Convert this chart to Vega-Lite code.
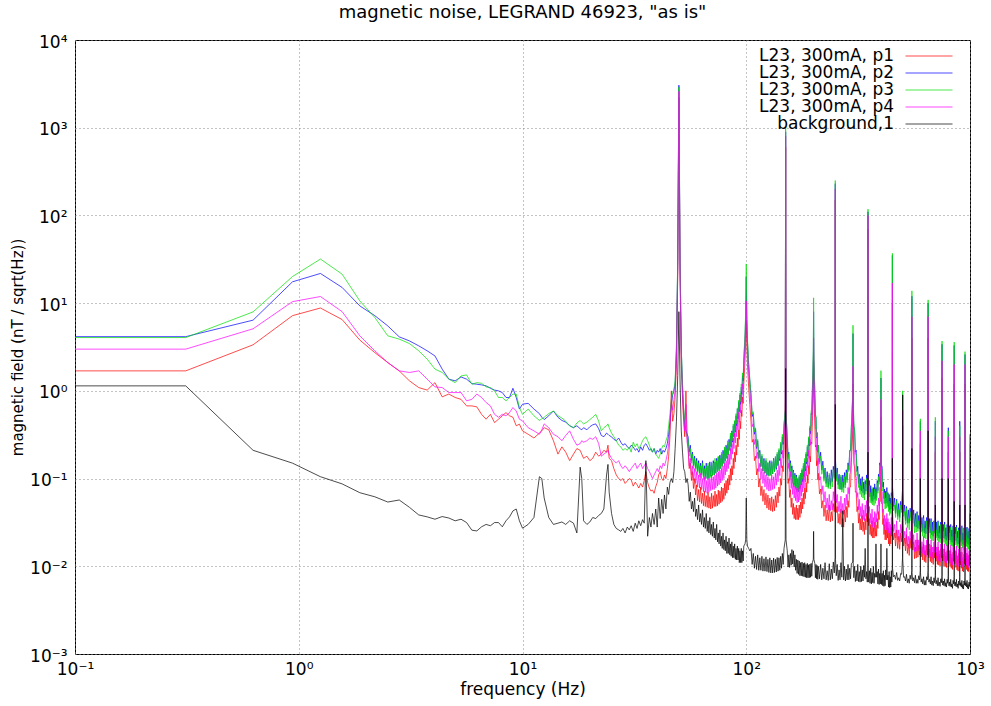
{
"$schema": "https://vega.github.io/schema/vega-lite/v6.json",
"width": 895,
"height": 614,
"autosize": {"type": "none"},
"padding": {"left": 75, "top": 40, "right": 21, "bottom": 52},
"background": "white",
"title": {"text": "magnetic noise, LEGRAND 46923, \"as is\"", "fontSize": 18, "fontWeight": "normal", "font": "DejaVu Sans", "offset": 11, "color": "#000"},
"data": {"values": [
{"f":0.1,"p1":1.69,"p2":4.15,"p3":4.05,"p4":2.99,"bg":1.14},
{"f":0.3125,"p1":1.69,"p2":4.15,"p3":4.05,"p4":2.99,"bg":1.14},
{"f":0.625,"p1":3.35,"p2":6.4,"p3":7.95,"p4":5.1,"bg":0.21},
{"f":0.9375,"p1":7.2,"p2":17.5,"p3":20.1,"p4":10.4,"bg":0.15},
{"f":1.25,"p1":8.8,"p2":21.8,"p3":31.8,"p4":11.9,"bg":0.105},
{"f":1.5625,"p1":6.5,"p2":15.1,"p3":21.4,"p4":8.0,"bg":0.087},
{"f":1.875,"p1":3.79,"p2":9.3,"p3":10.6,"p4":4.24,"bg":0.069},
{"f":2.1875,"p1":2.73,"p2":7.2,"p3":6.85,"p4":2.86,"bg":0.062},
{"f":2.5,"p1":2.1,"p2":5.5,"p3":4.24,"p4":2.1,"bg":0.054},
{"f":2.8125,"p1":1.69,"p2":4.13,"p3":3.89,"p4":1.69,"bg":0.057},
{"f":3.125,"p1":1.3,"p2":3.71,"p3":3.46,"p4":1.62,"bg":0.047},
{"f":3.4375,"p1":1.09,"p2":3.26,"p3":2.86,"p4":1.69,"bg":0.0385},
{"f":3.75,"p1":1.02,"p2":2.86,"p3":2.3,"p4":1.36,"bg":0.0366},
{"f":4.0625,"p1":1.24,"p2":2.5,"p3":1.77,"p4":1.11,"bg":0.0344},
{"f":4.375,"p1":0.854,"p2":1.77,"p3":1.62,"p4":1.09,"bg":0.0369},
{"f":4.6875,"p1":0.92,"p2":1.36,"p3":1.36,"p4":0.956,"bg":0.0355},
{"f":5,"p1":0.84,"p2":1.3,"p3":1.24,"p4":0.956,"bg":0.033},
{"f":5.3125,"p1":0.8,"p2":1.44,"p3":1.48,"p4":0.956,"bg":0.0344},
{"f":5.625,"p1":0.674,"p2":1.36,"p3":1.52,"p4":0.77,"bg":0.0315},
{"f":5.9375,"p1":0.674,"p2":1.21,"p3":1.19,"p4":0.8,"bg":0.0258},
{"f":6.25,"p1":0.657,"p2":1.19,"p3":1.24,"p4":0.92,"bg":0.0253},
{"f":6.5625,"p1":0.54,"p2":1.17,"p3":1.22,"p4":0.84,"bg":0.0282},
{"f":6.875,"p1":0.475,"p2":1.14,"p3":1.11,"p4":0.736,"bg":0.03},
{"f":7.1875,"p1":0.54,"p2":1.07,"p3":1.09,"p4":0.674,"bg":0.029},
{"f":7.5,"p1":0.435,"p2":1.02,"p3":1.0,"p4":0.54,"bg":0.0315},
{"f":7.8125,"p1":0.475,"p2":1.0,"p3":0.84,"p4":0.5,"bg":0.0315},
{"f":8.125,"p1":0.52,"p2":0.956,"p3":0.84,"p4":0.54,"bg":0.0282},
{"f":8.4375,"p1":0.565,"p2":0.84,"p3":0.77,"p4":0.52,"bg":0.033},
{"f":8.75,"p1":0.52,"p2":0.84,"p3":0.84,"p4":0.565,"bg":0.0366},
{"f":9.0625,"p1":0.5,"p2":1.07,"p3":0.92,"p4":0.645,"bg":0.0428},
{"f":9.375,"p1":0.4,"p2":0.84,"p3":0.92,"p4":0.59,"bg":0.045},
{"f":9.6875,"p1":0.417,"p2":0.62,"p3":0.645,"p4":0.475,"bg":0.033},
{"f":10,"p1":0.35,"p2":0.705,"p3":0.54,"p4":0.455,"bg":0.0272},
{"f":10.6,"p1":0.32,"p2":0.72,"p3":0.62,"p4":0.38,"bg":0.030},
{"f":11.25,"p1":0.29,"p2":0.62,"p3":0.52,"p4":0.35,"bg":0.036},
{"f":11.9,"p1":0.33,"p2":0.55,"p3":0.46,"p4":0.32,"bg":0.105},
{"f":12.2,"p1":0.35,"p2":0.50,"p3":0.48,"p4":0.36,"bg":0.10},
{"f":12.5,"p1":0.38,"p2":0.47,"p3":0.50,"p4":0.42,"bg":0.06},
{"f":13.1,"p1":0.36,"p2":0.52,"p3":0.55,"p4":0.38,"bg":0.036},
{"f":13.75,"p1":0.27,"p2":0.59,"p3":0.59,"p4":0.32,"bg":0.030},
{"f":14.4,"p1":0.19,"p2":0.50,"p3":0.52,"p4":0.30,"bg":0.031},
{"f":15,"p1":0.23,"p2":0.46,"p3":0.49,"p4":0.27,"bg":0.032},
{"f":15.6,"p1":0.20,"p2":0.44,"p3":0.45,"p4":0.31,"bg":0.030},
{"f":16.25,"p1":0.16,"p2":0.40,"p3":0.40,"p4":0.35,"bg":0.033},
{"f":16.9,"p1":0.19,"p2":0.38,"p3":0.38,"p4":0.28,"bg":0.031},
{"f":17.5,"p1":0.22,"p2":0.40,"p3":0.43,"p4":0.24,"bg":0.024},
{"f":18.1,"p1":0.21,"p2":0.37,"p3":0.46,"p4":0.25,"bg":0.135},
{"f":18.4,"p1":0.19,"p2":0.36,"p3":0.44,"p4":0.27,"bg":0.10},
{"f":18.75,"p1":0.17,"p2":0.38,"p3":0.42,"p4":0.26,"bg":0.033},
{"f":19.4,"p1":0.18,"p2":0.36,"p3":0.44,"p4":0.27,"bg":0.030},
{"f":20,"p1":0.16,"p2":0.39,"p3":0.47,"p4":0.29,"bg":0.032},
{"f":20.6,"p1":0.17,"p2":0.41,"p3":0.50,"p4":0.28,"bg":0.036},
{"f":21.25,"p1":0.20,"p2":0.42,"p3":0.54,"p4":0.30,"bg":0.035},
{"f":21.9,"p1":0.18,"p2":0.37,"p3":0.45,"p4":0.25,"bg":0.038},
{"f":22.5,"p1":0.19,"p2":0.31,"p3":0.35,"p4":0.18,"bg":0.040},
{"f":23.1,"p1":0.21,"p2":0.30,"p3":0.38,"p4":0.19,"bg":0.045},
{"f":23.75,"p1":0.20,"p2":0.33,"p3":0.40,"p4":0.20,"bg":0.11},
{"f":24.1,"p1":0.24,"p2":0.32,"p3":0.42,"p4":0.21,"bg":0.145},
{"f":24.4,"p1":0.17,"p2":0.31,"p3":0.38,"p4":0.19,"bg":0.07},
{"f":25,"p1":0.16,"p2":0.30,"p3":0.33,"p4":0.17,"bg":0.040},
{"f":25.6,"p1":0.13,"p2":0.28,"p3":0.30,"p4":0.16,"bg":0.030},
{"f":26.25,"p1":0.11,"p2":0.27,"p3":0.27,"p4":0.15,"bg":0.027},
{"f":26.9,"p1":0.10,"p2":0.29,"p3":0.24,"p4":0.16,"bg":0.026},
{"f":27.5,"p1":0.095,"p2":0.26,"p3":0.23,"p4":0.14,"bg":0.025},
{"f":28.1,"p1":0.10,"p2":0.24,"p3":0.21,"p4":0.13,"bg":0.027},
{"f":28.75,"p1":0.088,"p2":0.25,"p3":0.22,"p4":0.14,"bg":0.024},
{"f":29.4,"p1":0.094,"p2":0.23,"p3":0.21,"p4":0.13,"bg":0.028},
{"f":30,"p1":0.10,"p2":0.22,"p3":0.23,"p4":0.12,"bg":0.026},
{"f":30.6,"p1":0.097,"p2":0.24,"p3":0.20,"p4":0.13,"bg":0.029},
{"f":31.25,"p1":0.082,"p2":0.23,"p3":0.26,"p4":0.14,"bg":0.025},
{"f":31.9,"p1":0.091,"p2":0.21,"p3":0.23,"p4":0.15,"bg":0.031},
{"f":32.5,"p1":0.085,"p2":0.22,"p3":0.25,"p4":0.13,"bg":0.027},
{"f":33.1,"p1":0.078,"p2":0.20,"p3":0.22,"p4":0.14,"bg":0.033},
{"f":33.75,"p1":0.088,"p2":0.23,"p3":0.24,"p4":0.15,"bg":0.029},
{"f":34.4,"p1":0.080,"p2":0.21,"p3":0.27,"p4":0.13,"bg":0.034},
{"f":35,"p1":0.095,"p2":0.24,"p3":0.29,"p4":0.14,"bg":0.031},
{"f":35.6,"p1":0.12,"p2":0.25,"p3":0.30,"p4":0.15,"bg":0.16},
{"f":36.25,"p1":0.090,"p2":0.23,"p3":0.27,"p4":0.13,"bg":0.022},
{"f":36.9,"p1":0.078,"p2":0.21,"p3":0.24,"p4":0.12,"bg":0.036},
{"f":37.5,"p1":0.072,"p2":0.22,"p3":0.21,"p4":0.11,"bg":0.028},
{"f":38.1,"p1":0.074,"p2":0.20,"p3":0.20,"p4":0.10,"bg":0.040},
{"f":38.75,"p1":0.068,"p2":0.22,"p3":0.22,"p4":0.11,"bg":0.030},
{"f":39.4,"p1":0.081,"p2":0.19,"p3":0.19,"p4":0.12,"bg":0.045},
{"f":40,"p1":0.090,"p2":0.21,"p3":0.18,"p4":0.13,"bg":0.028},
{"f":40.6,"p1":0.11,"p2":0.20,"p3":0.17,"p4":0.12,"bg":0.060},
{"f":41.25,"p1":0.12,"p2":0.22,"p3":0.19,"p4":0.14,"bg":0.035},
{"f":41.9,"p1":0.10,"p2":0.19,"p3":0.22,"p4":0.13,"bg":0.058},
{"f":42.5,"p1":0.095,"p2":0.21,"p3":0.24,"p4":0.15,"bg":0.040},
{"f":43.1,"p1":0.11,"p2":0.20,"p3":0.23,"p4":0.14,"bg":0.065},
{"f":43.75,"p1":0.10,"p2":0.22,"p3":0.27,"p4":0.16,"bg":0.045},
{"f":44.4,"p1":0.13,"p2":0.25,"p3":0.30,"p4":0.19,"bg":0.08},
{"f":45,"p1":0.18,"p2":0.32,"p3":0.40,"p4":0.25,"bg":0.066},
{"f":45.6,"p1":0.30,"p2":0.45,"p3":0.55,"p4":0.38,"bg":0.09},
{"f":46.25,"p1":1.0,"p2":0.70,"p3":0.80,"p4":0.75,"bg":0.10},
{"f":46.9,"p1":0.45,"p2":0.90,"p3":0.95,"p4":0.60,"bg":0.09},
{"f":47.5,"p1":0.55,"p2":1.0,"p3":1.05,"p4":0.80,"bg":0.12},
{"f":48.1,"p1":0.85,"p2":1.2,"p3":1.3,"p4":1.0,"bg":0.22},
{"f":48.75,"p1":2.0,"p2":3.0,"p3":3.2,"p4":2.5,"bg":0.45},
{"f":49.4,"p1":20,"p2":30,"p3":32,"p4":25,"bg":1.5},
{"f":50,"p1":2200,"p2":3050,"p3":2900,"p4":2600,"bg":8.0},
{"f":50.6,"p1":20,"p2":30,"p3":32,"p4":25,"bg":1.3},
{"f":51.25,"p1":2.0,"p2":3.0,"p3":3.0,"p4":2.4,"bg":0.35},
{"f":51.9,"p1":0.80,"p2":1.1,"p3":1.2,"p4":0.95,"bg":0.20},
{"f":52.5,"p1":0.45,"p2":0.60,"p3":0.65,"p4":0.50,"bg":0.13},
{"f":53.1,"p1":0.30,"p2":0.42,"p3":0.45,"p4":0.35,"bg":0.12},
{"f":53.75,"p1":1.0,"p2":0.35,"p3":0.33,"p4":0.70,"bg":0.09},
{"f":54.4,"p1":0.30,"p2":0.32,"p3":0.30,"p4":0.26,"bg":0.10},
{"f":55,"p1":0.22,"p2":0.30,"p3":0.28,"p4":0.22,"bg":0.085},
{"f":56.25,"p1":0.15,"p2":0.24,"p3":0.22,"p4":0.17,"bg":0.07},
{"f":57.5,"p1":0.12,"p2":0.20,"p3":0.19,"p4":0.14,"bg":0.055},
{"f":58.75,"p1":0.10,"p2":0.18,"p3":0.17,"p4":0.13,"bg":0.060},
{"f":60,"p1":0.085,"p2":0.17,"p3":0.16,"p4":0.12,"bg":0.045},
{"f":61.25,"p1":0.075,"p2":0.16,"p3":0.15,"p4":0.11,"bg":0.050},
{"f":62.5,"p1":0.080,"p2":0.15,"p3":0.14,"p4":0.115,"bg":0.040},
{"f":63.75,"p1":0.068,"p2":0.16,"p3":0.15,"p4":0.10,"bg":0.044},
{"f":65,"p1":0.072,"p2":0.14,"p3":0.13,"p4":0.105,"bg":0.036},
{"f":66.25,"p1":0.064,"p2":0.15,"p3":0.14,"p4":0.095,"bg":0.040},
{"f":67.5,"p1":0.070,"p2":0.14,"p3":0.15,"p4":0.10,"bg":0.033},
{"f":68.75,"p1":0.062,"p2":0.155,"p3":0.14,"p4":0.10,"bg":0.036},
{"f":70,"p1":0.068,"p2":0.15,"p3":0.155,"p4":0.11,"bg":0.030},
{"f":71.25,"p1":0.064,"p2":0.16,"p3":0.15,"p4":0.105,"bg":0.032},
{"f":72.5,"p1":0.072,"p2":0.155,"p3":0.17,"p4":0.11,"bg":0.027},
{"f":73.75,"p1":0.066,"p2":0.17,"p3":0.16,"p4":0.115,"bg":0.030},
{"f":75,"p1":0.074,"p2":0.175,"p3":0.18,"p4":0.12,"bg":0.024},
{"f":76.25,"p1":0.072,"p2":0.185,"p3":0.17,"p4":0.125,"bg":0.026},
{"f":77.5,"p1":0.080,"p2":0.19,"p3":0.20,"p4":0.13,"bg":0.022},
{"f":78.75,"p1":0.078,"p2":0.21,"p3":0.19,"p4":0.14,"bg":0.024},
{"f":80,"p1":0.088,"p2":0.22,"p3":0.23,"p4":0.15,"bg":0.020},
{"f":81.25,"p1":0.095,"p2":0.24,"p3":0.22,"p4":0.16,"bg":0.022},
{"f":82.5,"p1":0.10,"p2":0.25,"p3":0.27,"p4":0.18,"bg":0.019},
{"f":83.75,"p1":0.11,"p2":0.28,"p3":0.26,"p4":0.19,"bg":0.021},
{"f":85,"p1":0.13,"p2":0.31,"p3":0.33,"p4":0.22,"bg":0.018},
{"f":86.25,"p1":0.14,"p2":0.35,"p3":0.34,"p4":0.25,"bg":0.019},
{"f":87.5,"p1":0.17,"p2":0.40,"p3":0.42,"p4":0.29,"bg":0.017},
{"f":88.75,"p1":0.20,"p2":0.45,"p3":0.46,"p4":0.33,"bg":0.018},
{"f":90,"p1":0.24,"p2":0.52,"p3":0.55,"p4":0.40,"bg":0.016},
{"f":91.25,"p1":0.29,"p2":0.62,"p3":0.64,"p4":0.47,"bg":0.017},
{"f":92.5,"p1":0.36,"p2":0.75,"p3":0.78,"p4":0.57,"bg":0.016},
{"f":93.75,"p1":0.45,"p2":0.90,"p3":0.95,"p4":0.70,"bg":0.015},
{"f":95,"p1":0.60,"p2":1.1,"p3":1.2,"p4":0.9,"bg":0.016},
{"f":96.25,"p1":0.85,"p2":1.5,"p3":1.6,"p4":1.2,"bg":0.015},
{"f":97.5,"p1":1.2,"p2":2.2,"p3":2.4,"p4":1.8,"bg":0.017},
{"f":98.75,"p1":2.2,"p2":4.0,"p3":4.5,"p4":3.2,"bg":0.018},
{"f":99.4,"p1":3.5,"p2":7,"p3":8,"p4":5.5,"bg":0.02},
{"f":100,"p1":6.3,"p2":20,"p3":28,"p4":10.6,"bg":0.06},
{"f":100.6,"p1":3.3,"p2":6.5,"p3":7.5,"p4":5.0,"bg":0.02},
{"f":101.25,"p1":2.0,"p2":3.6,"p3":4.0,"p4":2.9,"bg":0.017},
{"f":102.5,"p1":1.1,"p2":2.0,"p3":2.1,"p4":1.6,"bg":0.016},
{"f":103.75,"p1":0.7,"p2":1.3,"p3":1.35,"p4":1.0,"bg":0.015},
{"f":105,"p1":0.45,"p2":0.9,"p3":0.95,"p4":0.7,"bg":0.016},
{"f":107.5,"p1":0.28,"p2":0.55,"p3":0.58,"p4":0.42,"bg":0.014},
{"f":110,"p1":0.18,"p2":0.37,"p3":0.38,"p4":0.28,"bg":0.013},
{"f":112.5,"p1":0.13,"p2":0.27,"p3":0.28,"p4":0.20,"bg":0.0135},
{"f":115,"p1":0.10,"p2":0.21,"p3":0.20,"p4":0.15,"bg":0.0125},
{"f":117.5,"p1":0.082,"p2":0.18,"p3":0.19,"p4":0.13,"bg":0.013},
{"f":120,"p1":0.075,"p2":0.17,"p3":0.16,"p4":0.12,"bg":0.0122},
{"f":122.5,"p1":0.068,"p2":0.16,"p3":0.17,"p4":0.11,"bg":0.0128},
{"f":125,"p1":0.065,"p2":0.15,"p3":0.155,"p4":0.105,"bg":0.012},
{"f":127.5,"p1":0.060,"p2":0.16,"p3":0.15,"p4":0.10,"bg":0.0125},
{"f":130,"p1":0.062,"p2":0.155,"p3":0.16,"p4":0.11,"bg":0.0118},
{"f":132.5,"p1":0.058,"p2":0.17,"p3":0.165,"p4":0.105,"bg":0.0124},
{"f":135,"p1":0.064,"p2":0.175,"p3":0.18,"p4":0.115,"bg":0.012},
{"f":137.5,"p1":0.070,"p2":0.19,"p3":0.20,"p4":0.125,"bg":0.0126},
{"f":140,"p1":0.080,"p2":0.21,"p3":0.22,"p4":0.14,"bg":0.0125},
{"f":142.5,"p1":0.10,"p2":0.25,"p3":0.26,"p4":0.17,"bg":0.013},
{"f":145,"p1":0.14,"p2":0.30,"p3":0.32,"p4":0.21,"bg":0.014},
{"f":147.5,"p1":0.20,"p2":0.40,"p3":0.42,"p4":0.28,"bg":0.016},
{"f":149.4,"p1":0.8,"p2":0.60,"p3":0.62,"p4":0.45,"bg":0.02},
{"f":150,"p1":600,"p2":900,"p3":1000,"p4":800,"bg":1.8},
{"f":150.6,"p1":0.32,"p2":0.55,"p3":0.58,"p4":0.42,"bg":0.02},
{"f":152.5,"p1":0.15,"p2":0.30,"p3":0.28,"p4":0.22,"bg":0.015},
{"f":155,"p1":0.10,"p2":0.20,"p3":0.19,"p4":0.15,"bg":0.0135},
{"f":157.5,"p1":0.075,"p2":0.16,"p3":0.15,"p4":0.12,"bg":0.014},
{"f":160,"p1":0.060,"p2":0.14,"p3":0.13,"p4":0.10,"bg":0.0155},
{"f":162.5,"p1":0.052,"p2":0.125,"p3":0.12,"p4":0.09,"bg":0.015},
{"f":165,"p1":0.047,"p2":0.115,"p3":0.11,"p4":0.082,"bg":0.0135},
{"f":167.5,"p1":0.050,"p2":0.11,"p3":0.105,"p4":0.078,"bg":0.012},
{"f":170,"p1":0.046,"p2":0.10,"p3":0.10,"p4":0.075,"bg":0.0118},
{"f":172.5,"p1":0.050,"p2":0.105,"p3":0.11,"p4":0.08,"bg":0.0115},
{"f":175,"p1":0.054,"p2":0.115,"p3":0.115,"p4":0.085,"bg":0.011},
{"f":177.5,"p1":0.060,"p2":0.125,"p3":0.13,"p4":0.095,"bg":0.0112},
{"f":180,"p1":0.068,"p2":0.14,"p3":0.15,"p4":0.105,"bg":0.0108},
{"f":182.5,"p1":0.078,"p2":0.16,"p3":0.17,"p4":0.12,"bg":0.011},
{"f":185,"p1":0.09,"p2":0.19,"p3":0.20,"p4":0.14,"bg":0.0105},
{"f":187.5,"p1":0.11,"p2":0.23,"p3":0.24,"p4":0.17,"bg":0.0108},
{"f":190,"p1":0.14,"p2":0.29,"p3":0.30,"p4":0.21,"bg":0.0104},
{"f":192.5,"p1":0.18,"p2":0.38,"p3":0.40,"p4":0.28,"bg":0.0106},
{"f":195,"p1":0.26,"p2":0.55,"p3":0.60,"p4":0.40,"bg":0.0108},
{"f":197.5,"p1":0.45,"p2":1.0,"p3":1.1,"p4":0.75,"bg":0.011},
{"f":199.4,"p1":0.9,"p2":2.5,"p3":3.0,"p4":1.6,"bg":0.012},
{"f":200,"p1":2.2,"p2":8,"p3":11.5,"p4":4.0,"bg":0.025},
{"f":200.6,"p1":0.85,"p2":2.3,"p3":2.8,"p4":1.5,"bg":0.012},
{"f":202.5,"p1":0.42,"p2":0.95,"p3":1.0,"p4":0.70,"bg":0.0108},
{"f":205,"p1":0.24,"p2":0.50,"p3":0.52,"p4":0.36,"bg":0.0105},
{"f":207.5,"p1":0.16,"p2":0.33,"p3":0.34,"p4":0.24,"bg":0.0102},
{"f":210,"p1":0.115,"p2":0.24,"p3":0.24,"p4":0.17,"bg":0.010},
{"f":215,"p1":0.076,"p2":0.20,"p3":0.18,"p4":0.105,"bg":0.0105},
{"f":220,"p1":0.056,"p2":0.158,"p3":0.141,"p4":0.083,"bg":0.0095},
{"f":225,"p1":0.050,"p2":0.132,"p3":0.126,"p4":0.071,"bg":0.011},
{"f":230,"p1":0.044,"p2":0.12,"p3":0.105,"p4":0.060,"bg":0.0089},
{"f":235,"p1":0.050,"p2":0.11,"p3":0.115,"p4":0.066,"bg":0.0107},
{"f":240,"p1":0.042,"p2":0.126,"p3":0.102,"p4":0.056,"bg":0.0093},
{"f":245,"p1":0.052,"p2":0.138,"p3":0.126,"p4":0.071,"bg":0.0112},
{"f":249.4,"p1":0.071,"p2":0.166,"p3":0.158,"p4":0.089,"bg":0.0126},
{"f":250,"p1":150,"p2":230,"p3":250,"p4":200,"bg":0.7},
{"f":250.6,"p1":0.068,"p2":0.16,"p3":0.15,"p4":0.085,"bg":0.012},
{"f":255,"p1":0.048,"p2":0.132,"p3":0.117,"p4":0.066,"bg":0.0105},
{"f":260,"p1":0.040,"p2":0.112,"p3":0.10,"p4":0.055,"bg":0.0091},
{"f":265,"p1":0.045,"p2":0.105,"p3":0.11,"p4":0.063,"bg":0.011},
{"f":270,"p1":0.035,"p2":0.11,"p3":0.091,"p4":0.052,"bg":0.043},
{"f":275,"p1":0.044,"p2":0.117,"p3":0.105,"p4":0.06,"bg":0.010},
{"f":280,"p1":0.048,"p2":0.126,"p3":0.117,"p4":0.066,"bg":0.0093},
{"f":285,"p1":0.056,"p2":0.151,"p3":0.141,"p4":0.079,"bg":0.0105},
{"f":290,"p1":0.079,"p2":0.21,"p3":0.20,"p4":0.112,"bg":0.0095},
{"f":295,"p1":0.151,"p2":0.38,"p3":0.40,"p4":0.224,"bg":0.0107},
{"f":299.4,"p1":0.355,"p2":0.89,"p3":1.0,"p4":0.50,"bg":0.0112},
{"f":300,"p1":1.2,"p2":4.5,"p3":5.6,"p4":1.9,"bg":0.031},
{"f":300.6,"p1":0.32,"p2":0.8,"p3":0.9,"p4":0.45,"bg":0.011},
{"f":305,"p1":0.132,"p2":0.355,"p3":0.355,"p4":0.20,"bg":0.010},
{"f":310,"p1":0.071,"p2":0.21,"p3":0.19,"p4":0.105,"bg":0.0089},
{"f":315,"p1":0.048,"p2":0.138,"p3":0.12,"p4":0.069,"bg":0.0105},
{"f":320,"p1":0.040,"p2":0.112,"p3":0.105,"p4":0.058,"bg":0.0087},
{"f":325,"p1":0.035,"p2":0.10,"p3":0.083,"p4":0.048,"bg":0.010},
{"f":330,"p1":0.038,"p2":0.105,"p3":0.095,"p4":0.052,"bg":0.0091},
{"f":335,"p1":0.032,"p2":0.091,"p3":0.076,"p4":0.044,"bg":0.0102},
{"f":340,"p1":0.035,"p2":0.095,"p3":0.087,"p4":0.050,"bg":0.016},
{"f":345,"p1":0.040,"p2":0.11,"p3":0.10,"p4":0.056,"bg":0.0087},
{"f":349.4,"p1":0.05,"p2":0.132,"p3":0.126,"p4":0.071,"bg":0.010},
{"f":350,"p1":70,"p2":110,"p3":118,"p4":100,"bg":0.2},
{"f":350.6,"p1":0.048,"p2":0.125,"p3":0.12,"p4":0.068,"bg":0.0098},
{"f":355,"p1":0.035,"p2":0.095,"p3":0.083,"p4":0.048,"bg":0.0089},
{"f":360,"p1":0.030,"p2":0.083,"p3":0.069,"p4":0.040,"bg":0.0095},
{"f":365,"p1":0.033,"p2":0.076,"p3":0.079,"p4":0.045,"bg":0.0085},
{"f":370,"p1":0.0275,"p2":0.079,"p3":0.063,"p4":0.036,"bg":0.010},
{"f":375,"p1":0.032,"p2":0.087,"p3":0.076,"p4":0.042,"bg":0.0083},
{"f":380,"p1":0.0295,"p2":0.079,"p3":0.071,"p4":0.040,"bg":0.018},
{"f":385,"p1":0.035,"p2":0.095,"p3":0.089,"p4":0.050,"bg":0.0087},
{"f":390,"p1":0.042,"p2":0.112,"p3":0.105,"p4":0.060,"bg":0.0093},
{"f":395,"p1":0.056,"p2":0.151,"p3":0.141,"p4":0.079,"bg":0.0083},
{"f":399.4,"p1":0.10,"p2":0.26,"p3":0.25,"p4":0.141,"bg":0.010},
{"f":400,"p1":0.5,"p2":1.4,"p3":1.7,"p4":0.8,"bg":0.018},
{"f":400.6,"p1":0.095,"p2":0.25,"p3":0.24,"p4":0.135,"bg":0.0095},
{"f":405,"p1":0.052,"p2":0.138,"p3":0.126,"p4":0.071,"bg":0.0083},
{"f":410,"p1":0.035,"p2":0.091,"p3":0.079,"p4":0.045,"bg":0.0089},
{"f":415,"p1":0.030,"p2":0.076,"p3":0.069,"p4":0.038,"bg":0.0079},
{"f":420,"p1":0.026,"p2":0.072,"p3":0.06,"p4":0.035,"bg":0.0091},
{"f":425,"p1":0.032,"p2":0.079,"p3":0.071,"p4":0.040,"bg":0.016},
{"f":430,"p1":0.0275,"p2":0.069,"p3":0.066,"p4":0.035,"bg":0.0079},
{"f":435,"p1":0.024,"p2":0.066,"p3":0.055,"p4":0.032,"bg":0.0087},
{"f":440,"p1":0.025,"p2":0.060,"p3":0.052,"p4":0.030,"bg":0.0076},
{"f":445,"p1":0.028,"p2":0.069,"p3":0.063,"p4":0.036,"bg":0.0089},
{"f":449.4,"p1":0.035,"p2":0.083,"p3":0.079,"p4":0.045,"bg":0.01},
{"f":450,"p1":10,"p2":35,"p3":37,"p4":17,"bg":0.17},
{"f":450.6,"p1":0.034,"p2":0.08,"p3":0.076,"p4":0.043,"bg":0.0095},
{"f":460,"p1":0.024,"p2":0.060,"p3":0.050,"p4":0.030,"bg":0.0079},
{"f":470,"p1":0.026,"p2":0.058,"p3":0.056,"p4":0.033,"bg":0.0085},
{"f":480,"p1":0.022,"p2":0.052,"p3":0.044,"p4":0.026,"bg":0.0074},
{"f":490,"p1":0.024,"p2":0.055,"p3":0.050,"p4":0.030,"bg":0.0083},
{"f":499.4,"p1":0.032,"p2":0.076,"p3":0.071,"p4":0.040,"bg":0.0126},
{"f":500,"p1":0.4,"p2":0.9,"p3":1.0,"p4":0.6,"bg":0.9},
{"f":500.6,"p1":0.030,"p2":0.072,"p3":0.068,"p4":0.038,"bg":0.012},
{"f":510,"p1":0.021,"p2":0.050,"p3":0.042,"p4":0.025,"bg":0.0076},
{"f":520,"p1":0.023,"p2":0.048,"p3":0.046,"p4":0.0275,"bg":0.0081},
{"f":530,"p1":0.018,"p2":0.044,"p3":0.035,"p4":0.022,"bg":0.0072},
{"f":540,"p1":0.021,"p2":0.046,"p3":0.042,"p4":0.025,"bg":0.0079},
{"f":549.4,"p1":0.0275,"p2":0.060,"p3":0.056,"p4":0.033,"bg":0.0089},
{"f":550,"p1":4,"p2":12,"p3":13.8,"p4":7,"bg":0.22},
{"f":550.6,"p1":0.026,"p2":0.057,"p3":0.053,"p4":0.031,"bg":0.0085},
{"f":560,"p1":0.019,"p2":0.044,"p3":0.038,"p4":0.023,"bg":0.0074},
{"f":570,"p1":0.0166,"p2":0.040,"p3":0.032,"p4":0.020,"bg":0.0079},
{"f":580,"p1":0.020,"p2":0.042,"p3":0.040,"p4":0.024,"bg":0.0071},
{"f":590,"p1":0.0174,"p2":0.038,"p3":0.033,"p4":0.020,"bg":0.0078},
{"f":599.4,"p1":0.022,"p2":0.048,"p3":0.045,"p4":0.026,"bg":0.0089},
{"f":600,"p1":0.25,"p2":0.45,"p3":0.48,"p4":0.35,"bg":0.1},
{"f":600.6,"p1":0.021,"p2":0.045,"p3":0.042,"p4":0.025,"bg":0.0085},
{"f":610,"p1":0.0166,"p2":0.036,"p3":0.030,"p4":0.019,"bg":0.0072},
{"f":620,"p1":0.018,"p2":0.038,"p3":0.035,"p4":0.022,"bg":0.0076},
{"f":630,"p1":0.0151,"p2":0.033,"p3":0.0275,"p4":0.0174,"bg":0.0069},
{"f":640,"p1":0.0174,"p2":0.036,"p3":0.033,"p4":0.020,"bg":0.0076},
{"f":649.4,"p1":0.022,"p2":0.048,"p3":0.045,"p4":0.026,"bg":0.0089},
{"f":650,"p1":4,"p2":10,"p3":10.9,"p4":7,"bg":0.35},
{"f":650.6,"p1":0.021,"p2":0.045,"p3":0.042,"p4":0.025,"bg":0.0085},
{"f":660,"p1":0.0158,"p2":0.035,"p3":0.028,"p4":0.018,"bg":0.0071},
{"f":670,"p1":0.0174,"p2":0.035,"p3":0.033,"p4":0.020,"bg":0.0076},
{"f":680,"p1":0.0145,"p2":0.032,"p3":0.025,"p4":0.0166,"bg":0.0068},
{"f":690,"p1":0.0166,"p2":0.033,"p3":0.032,"p4":0.019,"bg":0.0074},
{"f":699.4,"p1":0.020,"p2":0.040,"p3":0.038,"p4":0.023,"bg":0.0079},
{"f":700,"p1":0.2,"p2":0.45,"p3":0.5,"p4":0.3,"bg":0.05},
{"f":700.6,"p1":0.019,"p2":0.038,"p3":0.036,"p4":0.022,"bg":0.0078},
{"f":710,"p1":0.0145,"p2":0.032,"p3":0.026,"p4":0.0166,"bg":0.0069},
{"f":720,"p1":0.0166,"p2":0.033,"p3":0.032,"p4":0.019,"bg":0.0074},
{"f":730,"p1":0.0138,"p2":0.029,"p3":0.024,"p4":0.0151,"bg":0.0066},
{"f":740,"p1":0.0158,"p2":0.032,"p3":0.030,"p4":0.018,"bg":0.0072},
{"f":749.4,"p1":0.021,"p2":0.042,"p3":0.040,"p4":0.024,"bg":0.0079},
{"f":750,"p1":1.4,"p2":3.4,"p3":3.7,"p4":2.2,"bg":0.1},
{"f":750.6,"p1":0.020,"p2":0.040,"p3":0.038,"p4":0.023,"bg":0.0076},
{"f":760,"p1":0.0138,"p2":0.030,"p3":0.025,"p4":0.0158,"bg":0.0068},
{"f":770,"p1":0.0158,"p2":0.032,"p3":0.030,"p4":0.018,"bg":0.0072},
{"f":780,"p1":0.0132,"p2":0.0275,"p3":0.022,"p4":0.0145,"bg":0.0065},
{"f":790,"p1":0.0151,"p2":0.030,"p3":0.028,"p4":0.0174,"bg":0.0071},
{"f":799.4,"p1":0.019,"p2":0.038,"p3":0.035,"p4":0.022,"bg":0.0079},
{"f":800,"p1":0.2,"p2":0.38,"p3":0.35,"p4":0.3,"bg":0.1},
{"f":800.6,"p1":0.018,"p2":0.036,"p3":0.034,"p4":0.021,"bg":0.0076},
{"f":810,"p1":0.0138,"p2":0.029,"p3":0.024,"p4":0.0151,"bg":0.0066},
{"f":820,"p1":0.0151,"p2":0.030,"p3":0.028,"p4":0.0174,"bg":0.0071},
{"f":830,"p1":0.0126,"p2":0.026,"p3":0.0219,"p4":0.0138,"bg":0.0063},
{"f":840,"p1":0.0145,"p2":0.029,"p3":0.0275,"p4":0.0166,"bg":0.0069},
{"f":849.4,"p1":0.019,"p2":0.038,"p3":0.035,"p4":0.022,"bg":0.0076},
{"f":850,"p1":1.2,"p2":3.3,"p3":3.6,"p4":2.0,"bg":0.055},
{"f":850.6,"p1":0.018,"p2":0.036,"p3":0.034,"p4":0.021,"bg":0.0074},
{"f":860,"p1":0.0135,"p2":0.028,"p3":0.0234,"p4":0.0151,"bg":0.0066},
{"f":870,"p1":0.0148,"p2":0.0295,"p3":0.028,"p4":0.017,"bg":0.0071},
{"f":880,"p1":0.012,"p2":0.025,"p3":0.0209,"p4":0.0132,"bg":0.0063},
{"f":890,"p1":0.0141,"p2":0.0275,"p3":0.026,"p4":0.0158,"bg":0.0068},
{"f":899.4,"p1":0.0178,"p2":0.035,"p3":0.033,"p4":0.020,"bg":0.0076},
{"f":900,"p1":0.2,"p2":0.45,"p3":0.4,"p4":0.3,"bg":0.05},
{"f":900.6,"p1":0.017,"p2":0.034,"p3":0.032,"p4":0.019,"bg":0.0074},
{"f":910,"p1":0.0132,"p2":0.0275,"p3":0.0229,"p4":0.0145,"bg":0.0065},
{"f":920,"p1":0.0145,"p2":0.029,"p3":0.0275,"p4":0.0166,"bg":0.0069},
{"f":930,"p1":0.0115,"p2":0.024,"p3":0.020,"p4":0.0126,"bg":0.0062},
{"f":940,"p1":0.0138,"p2":0.0275,"p3":0.026,"p4":0.0158,"bg":0.0068},
{"f":949.4,"p1":0.0178,"p2":0.035,"p3":0.033,"p4":0.020,"bg":0.0076},
{"f":950,"p1":1.2,"p2":2.6,"p3":2.8,"p4":2.0,"bg":0.05},
{"f":950.6,"p1":0.017,"p2":0.034,"p3":0.032,"p4":0.019,"bg":0.0074},
{"f":960,"p1":0.0129,"p2":0.027,"p3":0.0224,"p4":0.0141,"bg":0.0065},
{"f":970,"p1":0.0141,"p2":0.028,"p3":0.027,"p4":0.0162,"bg":0.0069},
{"f":980,"p1":0.012,"p2":0.025,"p3":0.0209,"p4":0.0132,"bg":0.0062},
{"f":990,"p1":0.0135,"p2":0.027,"p3":0.025,"p4":0.0151,"bg":0.0066},
{"f":999.4,"p1":0.0166,"p2":0.034,"p3":0.032,"p4":0.019,"bg":0.0072},
{"f":1000,"p1":0.15,"p2":0.32,"p3":0.3,"p4":0.25,"bg":0.04},
{"f":55.6,"p1":0.13,"p2":0.20,"p3":0.18,"p4":0.14,"bg":0.055},
{"f":56.9,"p1":0.095,"p2":0.16,"p3":0.15,"p4":0.11,"bg":0.045},
{"f":58.1,"p1":0.077,"p2":0.14,"p3":0.13,"p4":0.095,"bg":0.042},
{"f":59.4,"p1":0.065,"p2":0.13,"p3":0.12,"p4":0.088,"bg":0.037},
{"f":60.6,"p1":0.056,"p2":0.12,"p3":0.11,"p4":0.08,"bg":0.034},
{"f":61.9,"p1":0.054,"p2":0.115,"p3":0.105,"p4":0.078,"bg":0.032},
{"f":63.1,"p1":0.052,"p2":0.11,"p3":0.10,"p4":0.075,"bg":0.03},
{"f":64.4,"p1":0.049,"p2":0.105,"p3":0.098,"p4":0.071,"bg":0.028},
{"f":65.6,"p1":0.048,"p2":0.10,"p3":0.095,"p4":0.07,"bg":0.027},
{"f":66.9,"p1":0.047,"p2":0.10,"p3":0.10,"p4":0.068,"bg":0.025},
{"f":68.1,"p1":0.046,"p2":0.10,"p3":0.10,"p4":0.07,"bg":0.024},
{"f":69.4,"p1":0.045,"p2":0.107,"p3":0.103,"p4":0.073,"bg":0.023},
{"f":70.6,"p1":0.046,"p2":0.11,"p3":0.107,"p4":0.075,"bg":0.022},
{"f":71.9,"p1":0.048,"p2":0.11,"p3":0.11,"p4":0.075,"bg":0.021},
{"f":73.1,"p1":0.048,"p2":0.115,"p3":0.115,"p4":0.078,"bg":0.02},
{"f":74.4,"p1":0.049,"p2":0.12,"p3":0.12,"p4":0.082,"bg":0.019},
{"f":75.6,"p1":0.051,"p2":0.126,"p3":0.122,"p4":0.085,"bg":0.018},
{"f":76.9,"p1":0.053,"p2":0.13,"p3":0.13,"p4":0.089,"bg":0.017},
{"f":78.1,"p1":0.055,"p2":0.14,"p3":0.137,"p4":0.095,"bg":0.016},
{"f":79.4,"p1":0.058,"p2":0.15,"p3":0.147,"p4":0.1,"bg":0.0155},
{"f":80.6,"p1":0.064,"p2":0.16,"p3":0.16,"p4":0.11,"bg":0.015},
{"f":81.9,"p1":0.068,"p2":0.17,"p3":0.17,"p4":0.12,"bg":0.014},
{"f":83.1,"p1":0.074,"p2":0.185,"p3":0.185,"p4":0.13,"bg":0.014},
{"f":84.4,"p1":0.084,"p2":0.21,"p3":0.21,"p4":0.145,"bg":0.0135},
{"f":85.6,"p1":0.095,"p2":0.23,"p3":0.235,"p4":0.165,"bg":0.013},
{"f":86.9,"p1":0.11,"p2":0.26,"p3":0.27,"p4":0.19,"bg":0.0125},
{"f":88.1,"p1":0.13,"p2":0.30,"p3":0.31,"p4":0.22,"bg":0.0125},
{"f":89.4,"p1":0.155,"p2":0.34,"p3":0.355,"p4":0.255,"bg":0.012},
{"f":90.6,"p1":0.185,"p2":0.40,"p3":0.42,"p4":0.30,"bg":0.0118},
{"f":91.9,"p1":0.23,"p2":0.48,"p3":0.50,"p4":0.36,"bg":0.0118},
{"f":93.1,"p1":0.28,"p2":0.58,"p3":0.61,"p4":0.44,"bg":0.011},
{"f":94.4,"p1":0.37,"p2":0.70,"p3":0.75,"p4":0.56,"bg":0.011},
{"f":95.6,"p1":0.51,"p2":0.91,"p3":0.98,"p4":0.74,"bg":0.011},
{"f":96.9,"p1":0.72,"p2":1.3,"p3":1.4,"p4":1.05,"bg":0.0115},
{"f":106.25,"p1":0.26,"p2":0.51,"p3":0.54,"p4":0.39,"bg":0.0105},
{"f":108.75,"p1":0.16,"p2":0.32,"p3":0.34,"p4":0.245,"bg":0.0095},
{"f":111.25,"p1":0.11,"p2":0.22,"p3":0.23,"p4":0.17,"bg":0.0092},
{"f":113.75,"p1":0.08,"p2":0.17,"p3":0.17,"p4":0.12,"bg":0.009},
{"f":116.25,"p1":0.064,"p2":0.137,"p3":0.137,"p4":0.098,"bg":0.009},
{"f":118.75,"p1":0.055,"p2":0.122,"p3":0.122,"p4":0.088,"bg":0.0088},
{"f":121.25,"p1":0.05,"p2":0.115,"p3":0.115,"p4":0.08,"bg":0.0088},
{"f":123.75,"p1":0.046,"p2":0.108,"p3":0.112,"p4":0.075,"bg":0.0087},
{"f":126.25,"p1":0.044,"p2":0.108,"p3":0.106,"p4":0.072,"bg":0.0085},
{"f":128.75,"p1":0.043,"p2":0.11,"p3":0.108,"p4":0.073,"bg":0.0084},
{"f":131.25,"p1":0.042,"p2":0.113,"p3":0.113,"p4":0.075,"bg":0.0084},
{"f":133.75,"p1":0.043,"p2":0.12,"p3":0.12,"p4":0.077,"bg":0.0085},
{"f":136.25,"p1":0.047,"p2":0.127,"p3":0.133,"p4":0.084,"bg":0.0086},
{"f":138.75,"p1":0.053,"p2":0.14,"p3":0.147,"p4":0.092,"bg":0.0088},
{"f":141.25,"p1":0.063,"p2":0.16,"p3":0.168,"p4":0.108,"bg":0.009},
{"f":143.75,"p1":0.084,"p2":0.19,"p3":0.2,"p4":0.133,"bg":0.0095},
{"f":146.25,"p1":0.12,"p2":0.245,"p3":0.26,"p4":0.17,"bg":0.0105},
{"f":153.75,"p1":0.088,"p2":0.175,"p3":0.165,"p4":0.13,"bg":0.0098},
{"f":156.25,"p1":0.061,"p2":0.126,"p3":0.12,"p4":0.095,"bg":0.0097},
{"f":158.75,"p1":0.047,"p2":0.105,"p3":0.098,"p4":0.077,"bg":0.0103},
{"f":161.25,"p1":0.039,"p2":0.092,"p3":0.088,"p4":0.066,"bg":0.0106},
{"f":163.75,"p1":0.035,"p2":0.084,"p3":0.08,"p4":0.06,"bg":0.0098},
{"f":166.25,"p1":0.034,"p2":0.078,"p3":0.075,"p4":0.056,"bg":0.009},
{"f":168.75,"p1":0.034,"p2":0.074,"p3":0.071,"p4":0.053,"bg":0.0083},
{"f":171.25,"p1":0.034,"p2":0.071,"p3":0.073,"p4":0.054,"bg":0.0081},
{"f":173.75,"p1":0.036,"p2":0.077,"p3":0.078,"p4":0.057,"bg":0.0078},
{"f":176.25,"p1":0.04,"p2":0.084,"p3":0.085,"p4":0.063,"bg":0.0078},
{"f":178.75,"p1":0.045,"p2":0.092,"p3":0.098,"p4":0.07,"bg":0.0077},
{"f":181.25,"p1":0.051,"p2":0.105,"p3":0.112,"p4":0.078,"bg":0.0076},
{"f":183.75,"p1":0.059,"p2":0.122,"p3":0.13,"p4":0.091,"bg":0.0075},
{"f":186.25,"p1":0.07,"p2":0.147,"p3":0.154,"p4":0.108,"bg":0.0074},
{"f":188.75,"p1":0.088,"p2":0.18,"p3":0.19,"p4":0.133,"bg":0.0074},
{"f":191.25,"p1":0.112,"p2":0.235,"p3":0.245,"p4":0.17,"bg":0.0074},
{"f":193.75,"p1":0.155,"p2":0.325,"p3":0.35,"p4":0.24,"bg":0.0075},
{"f":196.25,"p1":0.25,"p2":0.54,"p3":0.6,"p4":0.4,"bg":0.0077},
{"f":203.75,"p1":0.23,"p2":0.51,"p3":0.53,"p4":0.37,"bg":0.0074},
{"f":206.25,"p1":0.14,"p2":0.29,"p3":0.3,"p4":0.21,"bg":0.0072},
{"f":208.75,"p1":0.097,"p2":0.2,"p3":0.2,"p4":0.144,"bg":0.0071},
{"f":212.5,"p1":0.067,"p2":0.154,"p3":0.147,"p4":0.096,"bg":0.0072},
{"f":217.5,"p1":0.046,"p2":0.125,"p3":0.112,"p4":0.066,"bg":0.007},
{"f":222.5,"p1":0.037,"p2":0.1,"p3":0.093,"p4":0.054,"bg":0.0072},
{"f":227.5,"p1":0.033,"p2":0.088,"p3":0.08,"p4":0.046,"bg":0.007},
{"f":232.5,"p1":0.033,"p2":0.08,"p3":0.077,"p4":0.044,"bg":0.0069},
{"f":237.5,"p1":0.032,"p2":0.083,"p3":0.076,"p4":0.043,"bg":0.007},
{"f":242.5,"p1":0.033,"p2":0.092,"p3":0.08,"p4":0.044,"bg":0.0072},
{"f":247.5,"p1":0.042,"p2":0.105,"p3":0.1,"p4":0.056,"bg":0.0084},
{"f":252.5,"p1":0.041,"p2":0.1,"p3":0.093,"p4":0.053,"bg":0.0078},
{"f":257.5,"p1":0.031,"p2":0.085,"p3":0.076,"p4":0.042,"bg":0.0069},
{"f":262.5,"p1":0.03,"p2":0.076,"p3":0.074,"p4":0.041,"bg":0.007},
{"f":267.5,"p1":0.028,"p2":0.075,"p3":0.07,"p4":0.04,"bg":0.0075},
{"f":272.5,"p1":0.028,"p2":0.079,"p3":0.069,"p4":0.039,"bg":0.007},
{"f":277.5,"p1":0.032,"p2":0.085,"p3":0.078,"p4":0.044,"bg":0.0068},
{"f":282.5,"p1":0.036,"p2":0.097,"p3":0.09,"p4":0.05,"bg":0.007},
{"f":287.5,"p1":0.047,"p2":0.126,"p3":0.12,"p4":0.067,"bg":0.007},
{"f":292.5,"p1":0.08,"p2":0.21,"p3":0.21,"p4":0.12,"bg":0.0072},
{"f":302.5,"p1":0.15,"p2":0.4,"p3":0.44,"p4":0.22,"bg":0.0074},
{"f":307.5,"p1":0.07,"p2":0.2,"p3":0.19,"p4":0.105,"bg":0.0067},
{"f":312.5,"p1":0.042,"p2":0.12,"p3":0.108,"p4":0.061,"bg":0.0068},
{"f":317.5,"p1":0.031,"p2":0.088,"p3":0.079,"p4":0.044,"bg":0.0067},
{"f":322.5,"p1":0.026,"p2":0.074,"p3":0.066,"p4":0.037,"bg":0.0066},
{"f":327.5,"p1":0.026,"p2":0.072,"p3":0.062,"p4":0.035,"bg":0.0067},
{"f":332.5,"p1":0.025,"p2":0.069,"p3":0.06,"p4":0.034,"bg":0.0068},
{"f":337.5,"p1":0.023,"p2":0.065,"p3":0.057,"p4":0.033,"bg":0.0075},
{"f":342.5,"p1":0.026,"p2":0.072,"p3":0.066,"p4":0.037,"bg":0.0072},
{"f":347.5,"p1":0.032,"p2":0.085,"p3":0.079,"p4":0.045,"bg":0.0066},
{"f":352.5,"p1":0.029,"p2":0.077,"p3":0.07,"p4":0.041,"bg":0.0066},
{"f":357.5,"p1":0.023,"p2":0.062,"p3":0.053,"p4":0.031,"bg":0.0064},
{"f":362.5,"p1":0.022,"p2":0.056,"p3":0.052,"p4":0.03,"bg":0.0063},
{"f":367.5,"p1":0.021,"p2":0.055,"p3":0.05,"p4":0.028,"bg":0.0065},
{"f":372.5,"p1":0.021,"p2":0.058,"p3":0.049,"p4":0.027,"bg":0.0064},
{"f":377.5,"p1":0.022,"p2":0.058,"p3":0.052,"p4":0.029,"bg":0.0075},
{"f":382.5,"p1":0.022,"p2":0.061,"p3":0.056,"p4":0.032,"bg":0.0075},
{"f":387.5,"p1":0.027,"p2":0.073,"p3":0.068,"p4":0.039,"bg":0.0063},
{"f":392.5,"p1":0.034,"p2":0.092,"p3":0.086,"p4":0.049,"bg":0.0062},
{"f":397.5,"p1":0.055,"p2":0.14,"p3":0.137,"p4":0.077,"bg":0.0063},
{"f":402.5,"p1":0.052,"p2":0.136,"p3":0.128,"p4":0.072,"bg":0.0062},
{"f":407.5,"p1":0.03,"p2":0.08,"p3":0.072,"p4":0.041,"bg":0.006},
{"f":412.5,"p1":0.023,"p2":0.059,"p3":0.052,"p4":0.029,"bg":0.0059},
{"f":417.5,"p1":0.02,"p2":0.052,"p3":0.045,"p4":0.026,"bg":0.006},
{"f":422.5,"p1":0.02,"p2":0.053,"p3":0.046,"p4":0.026,"bg":0.007},
{"f":427.5,"p1":0.021,"p2":0.052,"p3":0.048,"p4":0.026,"bg":0.007},
{"f":432.5,"p1":0.018,"p2":0.047,"p3":0.042,"p4":0.024,"bg":0.0058},
{"f":437.5,"p1":0.017,"p2":0.044,"p3":0.038,"p4":0.022,"bg":0.0057},
{"f":442.5,"p1":0.018,"p2":0.045,"p3":0.04,"p4":0.023,"bg":0.0058},
{"f":447.5,"p1":0.022,"p2":0.053,"p3":0.05,"p4":0.028,"bg":0.0066},
{"f":455,"p1":0.02,"p2":0.048,"p3":0.043,"p4":0.025,"bg":0.0076},
{"f":465,"p1":0.017,"p2":0.04,"p3":0.036,"p4":0.021,"bg":0.0071},
{"f":475,"p1":0.016,"p2":0.037,"p3":0.034,"p4":0.02,"bg":0.0069},
{"f":485,"p1":0.0156,"p2":0.036,"p3":0.032,"p4":0.019,"bg":0.0068},
{"f":495,"p1":0.019,"p2":0.044,"p3":0.041,"p4":0.024,"bg":0.0081},
{"f":505,"p1":0.017,"p2":0.041,"p3":0.037,"p4":0.021,"bg":0.0075},
{"f":515,"p1":0.015,"p2":0.033,"p3":0.03,"p4":0.018,"bg":0.0068},
{"f":525,"p1":0.014,"p2":0.031,"p3":0.0275,"p4":0.017,"bg":0.0065},
{"f":535,"p1":0.0133,"p2":0.031,"p3":0.026,"p4":0.016,"bg":0.0064},
{"f":545,"p1":0.016,"p2":0.036,"p3":0.033,"p4":0.02,"bg":0.0071},
{"f":555,"p1":0.0153,"p2":0.034,"p3":0.031,"p4":0.018,"bg":0.0068},
{"f":565,"p1":0.0122,"p2":0.0285,"p3":0.024,"p4":0.0146,"bg":0.0065},
{"f":575,"p1":0.0124,"p2":0.028,"p3":0.0245,"p4":0.015,"bg":0.0064},
{"f":585,"p1":0.0127,"p2":0.027,"p3":0.025,"p4":0.015,"bg":0.0064},
{"f":595,"p1":0.0134,"p2":0.029,"p3":0.0265,"p4":0.0156,"bg":0.007},
{"f":605,"p1":0.0128,"p2":0.0275,"p3":0.0245,"p4":0.015,"bg":0.0066},
{"f":615,"p1":0.0118,"p2":0.025,"p3":0.022,"p4":0.014,"bg":0.0063},
{"f":625,"p1":0.0113,"p2":0.024,"p3":0.021,"p4":0.0134,"bg":0.0061},
{"f":635,"p1":0.011,"p2":0.0235,"p3":0.0205,"p4":0.0127,"bg":0.0061},
{"f":645,"p1":0.0134,"p2":0.0285,"p3":0.0265,"p4":0.0156,"bg":0.007},
{"f":655,"p1":0.0125,"p2":0.027,"p3":0.024,"p4":0.0146,"bg":0.0066},
{"f":665,"p1":0.0113,"p2":0.024,"p3":0.0207,"p4":0.0129,"bg":0.0063},
{"f":675,"p1":0.0109,"p2":0.0228,"p3":0.0197,"p4":0.0124,"bg":0.0061},
{"f":685,"p1":0.0105,"p2":0.022,"p3":0.0194,"p4":0.0121,"bg":0.006},
{"f":695,"p1":0.0124,"p2":0.0248,"p3":0.0238,"p4":0.0143,"bg":0.0065},
{"f":705,"p1":0.0114,"p2":0.0238,"p3":0.021,"p4":0.0131,"bg":0.0063},
{"f":715,"p1":0.0105,"p2":0.022,"p3":0.0197,"p4":0.0121,"bg":0.006},
{"f":725,"p1":0.0103,"p2":0.021,"p3":0.019,"p4":0.0116,"bg":0.006},
{"f":735,"p1":0.0101,"p2":0.0207,"p3":0.0184,"p4":0.0112,"bg":0.0059},
{"f":745,"p1":0.0125,"p2":0.025,"p3":0.0238,"p4":0.0143,"bg":0.0065},
{"f":755,"p1":0.0115,"p2":0.0238,"p3":0.0214,"p4":0.0132,"bg":0.0061},
{"f":765,"p1":0.0101,"p2":0.021,"p3":0.0187,"p4":0.0115,"bg":0.006},
{"f":775,"p1":0.0099,"p2":0.0204,"p3":0.0177,"p4":0.0111,"bg":0.0059},
{"f":785,"p1":0.0097,"p2":0.0197,"p3":0.017,"p4":0.0109,"bg":0.0058},
{"f":795,"p1":0.0116,"p2":0.0231,"p3":0.0214,"p4":0.0134,"bg":0.0064},
{"f":805,"p1":0.0108,"p2":0.0221,"p3":0.0197,"p4":0.0122,"bg":0.006},
{"f":815,"p1":0.0099,"p2":0.02,"p3":0.0177,"p4":0.0111,"bg":0.0059},
{"f":825,"p1":0.0095,"p2":0.019,"p3":0.017,"p4":0.0106,"bg":0.0058},
{"f":835,"p1":0.0092,"p2":0.0187,"p3":0.0168,"p4":0.0103,"bg":0.0056},
{"f":845,"p1":0.0114,"p2":0.0228,"p3":0.0213,"p4":0.0131,"bg":0.0063},
{"f":855,"p1":0.0107,"p2":0.0218,"p3":0.0195,"p4":0.0122,"bg":0.006},
{"f":865,"p1":0.0097,"p2":0.0196,"p3":0.0175,"p4":0.0109,"bg":0.0059},
{"f":875,"p1":0.0091,"p2":0.0186,"p3":0.0167,"p4":0.0103,"bg":0.0058},
{"f":885,"p1":0.0088,"p2":0.0179,"p3":0.016,"p4":0.0099,"bg":0.0056},
{"f":895,"p1":0.0109,"p2":0.0213,"p3":0.0201,"p4":0.0122,"bg":0.0061},
{"f":905,"p1":0.0103,"p2":0.0211,"p3":0.0187,"p4":0.0114,"bg":0.006},
{"f":915,"p1":0.0095,"p2":0.0192,"p3":0.0171,"p4":0.0106,"bg":0.0058},
{"f":925,"p1":0.0088,"p2":0.018,"p3":0.0162,"p4":0.0099,"bg":0.0056},
{"f":935,"p1":0.0086,"p2":0.0175,"p3":0.0156,"p4":0.0097,"bg":0.0055},
{"f":945,"p1":0.0107,"p2":0.0213,"p3":0.0201,"p4":0.0122,"bg":0.0061},
{"f":955,"p1":0.0102,"p2":0.0207,"p3":0.0185,"p4":0.0113,"bg":0.006},
{"f":965,"p1":0.0092,"p2":0.0187,"p3":0.0168,"p4":0.0103,"bg":0.0058},
{"f":975,"p1":0.0088,"p2":0.018,"p3":0.0163,"p4":0.01,"bg":0.0056},
{"f":985,"p1":0.0087,"p2":0.0177,"p3":0.0156,"p4":0.0097,"bg":0.0055},
{"f":995,"p1":0.0102,"p2":0.0207,"p3":0.0194,"p4":0.0116,"bg":0.0059}
]},
"transform": [{"fold": ["p1", "p2", "p3", "p4", "bg"], "as": ["series", "value"]}],
"mark": {"type": "line", "strokeWidth": 1, "opacity": 0.7, "clip": true, "interpolate": "linear"},
"encoding": {
  "x": {"field": "f", "type": "quantitative",
        "scale": {"type": "log", "domain": [0.1, 1000], "nice": false},
        "axis": {"title": "frequency (Hz)", "values": [0.1, 1, 10, 100, 1000],
                 "labelExpr": "'10' + (datum.value < 0.5 ? '⁻¹' : datum.value < 5 ? '⁰' : datum.value < 50 ? '¹' : datum.value < 500 ? '²' : '³')",
                 "labelPadding": 7, "titlePadding": 4, "labelFlush": false}},
  "y": {"field": "value", "type": "quantitative",
        "scale": {"type": "log", "domain": [0.001, 10000], "nice": false},
        "axis": {"title": "magnetic field (nT / sqrt(Hz))", "titleFontSize": 15, "values": [0.001, 0.01, 0.1, 1, 10, 100, 1000, 10000],
                 "labelExpr": "'10' + (datum.value < 0.005 ? '⁻³' : datum.value < 0.05 ? '⁻²' : datum.value < 0.5 ? '⁻¹' : datum.value < 5 ? '⁰' : datum.value < 50 ? '¹' : datum.value < 500 ? '²' : datum.value < 5000 ? '³' : '⁴')",
                 "labelPadding": 8, "titlePadding": 4, "labelOffset": 2, "labelFlush": false}},
  "color": {"field": "series", "type": "nominal",
            "scale": {"domain": ["p1", "p2", "p3", "p4", "bg"], "range": ["#ff0000", "#0000ff", "#00e000", "#ff00ff", "#000000"]},
            "legend": {"title": null, "orient": "none", "legendX": 830, "legendY": 9,
                       "labelExpr": "datum.label == 'bg' ? 'background,1' : 'L23, 300mA, ' + datum.label",
                       "symbolType": "stroke", "symbolSize": 2209, "symbolStrokeWidth": 1, "symbolOpacity": 0.7,
                       "labelAlign": "right", "labelOffset": -59, "clipHeight": 14, "rowPadding": 0, "padding": 0,
                       "labelFont": "DejaVu Sans", "labelFontSize": 17, "labelColor": "#000", "labelLimit": 400,
                       "encode": {"entries": {"update": {"width": {"value": 60}, "height": {"value": 14}}}}}}
},
"config": {
  "view": {"stroke": "#000", "strokeWidth": 1},
  "axis": {"labelFont": "DejaVu Sans", "labelFontSize": 17, "labelColor": "#000",
           "titleFont": "DejaVu Sans", "titleFontSize": 17, "titleFontWeight": "normal", "titleColor": "#000",
           "grid": true, "gridColor": "#888", "gridDash": [1, 3], "gridWidth": 1,
           "domain": false, "ticks": false}
}
}
